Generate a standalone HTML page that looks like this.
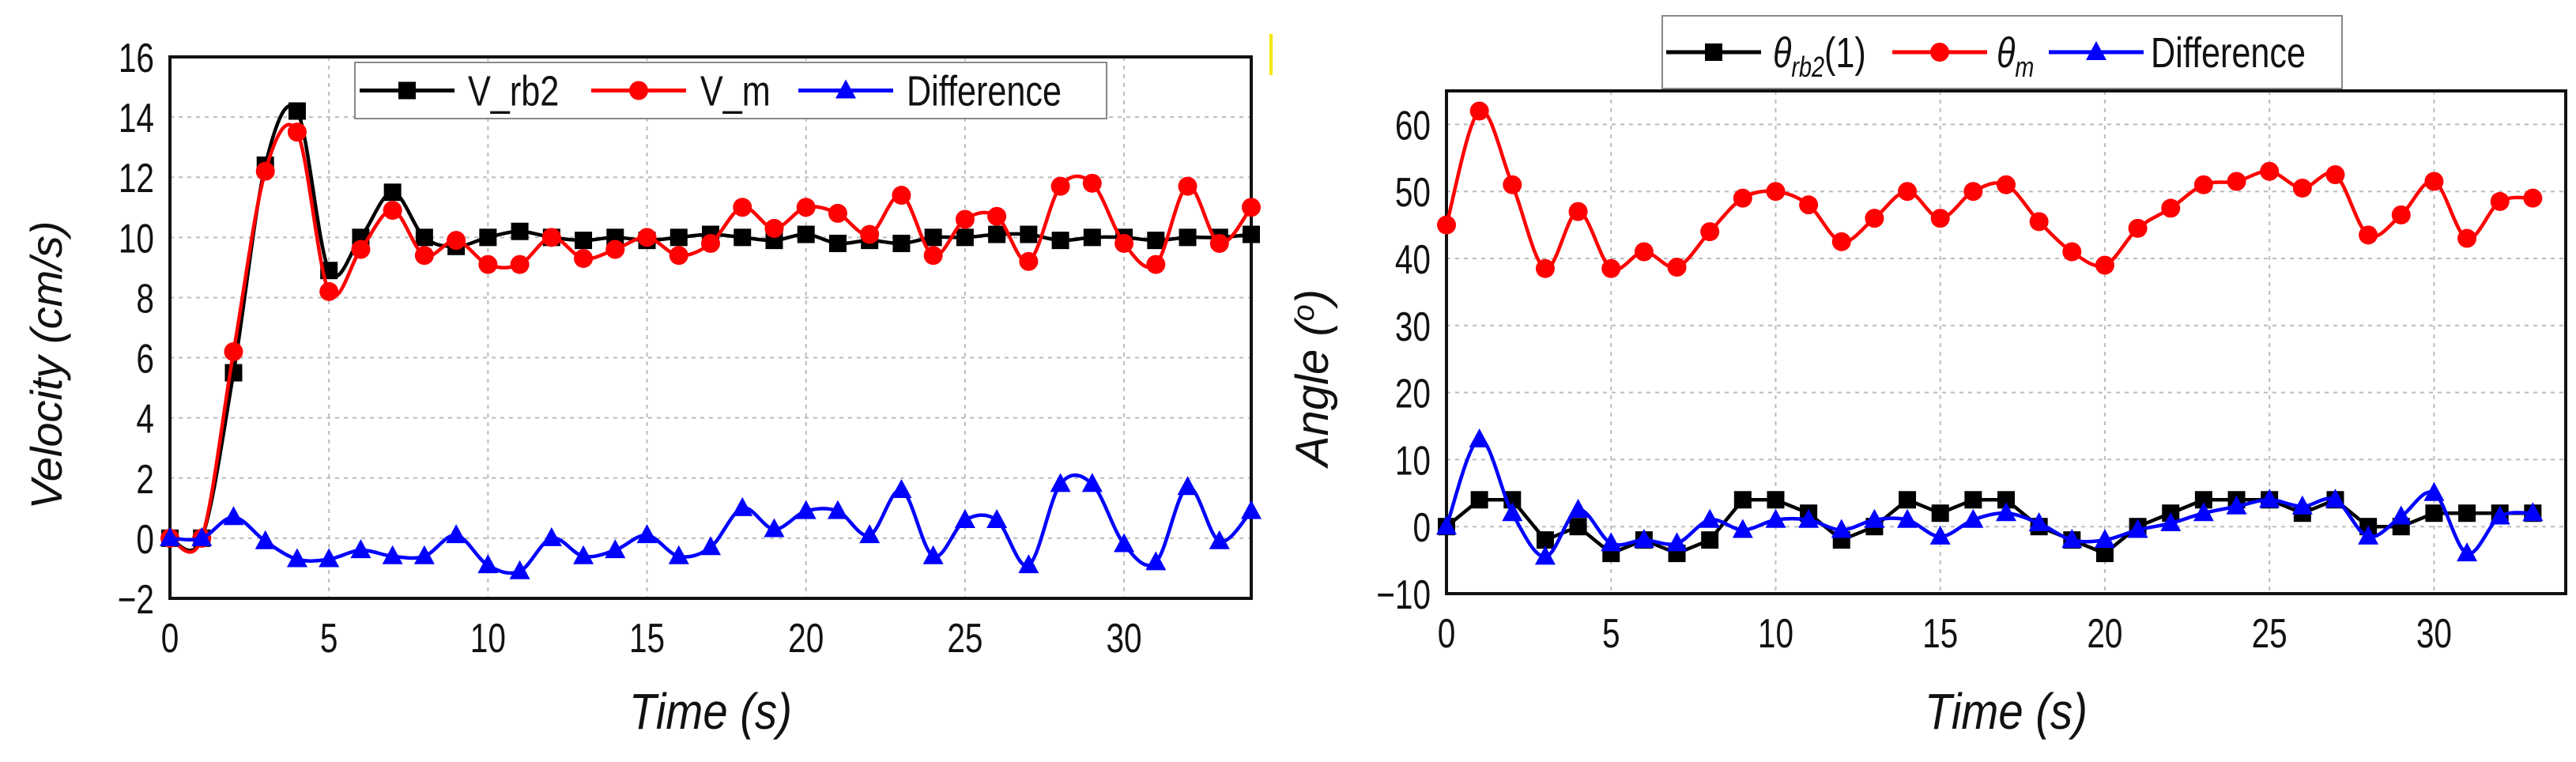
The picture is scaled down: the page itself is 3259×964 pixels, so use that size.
<!DOCTYPE html>
<html><head><meta charset="utf-8"><style>
html,body{margin:0;padding:0;background:#fff;width:3259px;height:964px;overflow:hidden}
svg{display:block}
text{font-family:"Liberation Sans",sans-serif}
</style></head><body>
<svg id="s" width="3259" height="964" xmlns="http://www.w3.org/2000/svg">
<rect x="1606" y="43" width="4" height="52" fill="#f5e600"/>
</svg>
<script>
// ---- Left chart data (velocity) ----
const velTime=[0,1,2,3,4,5,6,7,8,9,10,11,12,13,14,15,16,17,18,19,20,21,22,23,24,25,26,27,28,29,30,31,32,33,34];
const velRb2=[0,0,5.5,12.4,14.2,8.9,10,11.5,10,9.7,10,10.2,10,9.9,10,9.9,10,10.1,10,9.9,10.1,9.8,9.9,9.8,10,10,10.1,10.1,9.9,10,10,9.9,10,10,10.1];
const velM=[0,0,6.2,12.2,13.5,8.2,9.6,10.9,9.4,9.9,9.1,9.1,10,9.3,9.6,10,9.4,9.8,11,10.3,11,10.8,10.1,11.4,9.4,10.6,10.7,9.2,11.7,11.8,9.8,9.1,11.7,9.8,11];
const velDiff=[0,0,0.7,-0.1,-0.7,-0.7,-0.4,-0.6,-0.6,0.1,-0.9,-1.1,0,-0.6,-0.4,0.1,-0.6,-0.3,1,0.3,0.9,0.9,0.1,1.6,-0.6,0.6,0.6,-0.9,1.8,1.8,-0.2,-0.8,1.7,-0.1,0.9];
const velYTicks=[-2,0,2,4,6,8,10,12,14,16];
const velXTicks=[0,5,10,15,20,25,30];
// ---- Right chart data (angle) ----
const angTime=[0,1,2,3,4,5,6,7,8,9,10,11,12,13,14,15,16,17,18,19,20,21,22,23,24,25,26,27,28,29,30,31,32,33];
const angM=[45,62,51,38.5,47,38.5,41,38.7,44,49,50,48,42.5,46,50,46,50,51,45.5,41,39,44.5,47.5,51,51.5,53,50.5,52.5,43.5,46.5,51.5,43,48.5,49];
const angRb2=[0,4,4,-2,0,-4,-2,-4,-2,4,4,2,-2,0,4,2,4,4,0,-2,-4,0,2,4,4,4,2,4,0,0,2,2,2,2];
const angDiff=[0,13,2,-4.5,2.5,-2.5,-2,-2.5,1,-0.5,1,1,-0.5,1,1,-1.5,1,2,0.5,-2,-2,-0.5,0.5,2,3,4,3,4,-1.5,1.5,5,-4,1.5,2];
const angYTicks=[-10,0,10,20,30,40,50,60];
const angXTicks=[0,5,10,15,20,25,30];

const NS="http://www.w3.org/2000/svg";
const svg=document.getElementById('s');
function mk(tag,attrs,parent){const e=document.createElementNS(NS,tag);for(const k in attrs)e.setAttribute(k,attrs[k]);(parent||svg).appendChild(e);return e;}
function smooth(pts){let d="M"+pts[0][0]+","+pts[0][1];for(let i=0;i<pts.length-1;i++){const p0=pts[i-1]||pts[i],p1=pts[i],p2=pts[i+1],p3=pts[i+2]||p2;const t=0.5/3;d+=" C"+(p1[0]+(p2[0]-p0[0])*t)+","+(p1[1]+(p2[1]-p0[1])*t)+" "+(p2[0]-(p3[0]-p1[0])*t)+","+(p2[1]-(p3[1]-p1[1])*t)+" "+p2[0]+","+p2[1];}return d;}
function marker(g,type,x,y,c){let e;
 if(type==='sq'){e=mk('rect',{x:x-11,y:y-11,width:22,height:22,fill:c},g);}
 else if(type==='ci'){e=mk('circle',{cx:x,cy:y,r:12,fill:c},g);}
 else {e=mk('polygon',{points:(x)+","+(y-14)+" "+(x+13)+","+(y+10)+" "+(x-13)+","+(y+10),fill:c},g);}
 
 
}
function narrow(t,x,s){t.setAttribute('transform','translate('+x+',0) scale('+s+',1) translate('+(-x)+',0)');}
function chart(o){
 const sx=v=>o.x0+(v-o.xmin)/(o.xmax-o.xmin)*(o.x1-o.x0);
 const sy=v=>o.y1-(v-o.ymin)/(o.ymax-o.ymin)*(o.y1-o.y0);
 const g=mk('g',{});
 
 
 o.yTicks.forEach(t=>{if(t>o.ymin&&t<o.ymax){const l=mk('line',{x1:o.x0,x2:o.x1,y1:sy(t),y2:sy(t),stroke:'#bbb','stroke-width':2,'stroke-dasharray':'5,6'},g);}
  const tx=mk('text',{x:o.x0-20,y:sy(t)+19,'text-anchor':'end','font-size':52,fill:'#111'},g);tx.textContent=(t<0?'\u2212'+(-t):t);narrow(tx,o.x0-20,0.78);
  });
 o.xTicks.forEach(t=>{if(t>o.xmin&&t<o.xmax){const l=mk('line',{x1:sx(t),x2:sx(t),y1:o.y0,y2:o.y1,stroke:'#bbb','stroke-width':2,'stroke-dasharray':'5,6'},g);}
  const tx=mk('text',{x:sx(t),y:o.y1+68,'text-anchor':'middle','font-size':52,fill:'#111'},g);tx.textContent=t;narrow(tx,sx(t),0.78);
  });
 const fr=mk('rect',{x:o.x0,y:o.y0,width:o.x1-o.x0,height:o.y1-o.y0,fill:'none',stroke:'#111','stroke-width':4},g);
 
 o.series.forEach(s=>{
  const pts=o.xs.map((x,i)=>[sx(x),sy(s.v[i])]);
  const p=mk('path',{d:s.linear?("M"+pts.map(p=>p.join(',')).join(' L')):smooth(pts),fill:'none',stroke:s.c,'stroke-width':4.5},g);
  
  pts.forEach(q=>marker(g,s.m,q[0],q[1],s.c));
 });
 const xt=mk('text',{x:(o.x0+o.x1)/2,y:922,'text-anchor':'middle','font-size':64,'font-style':'italic',fill:'#111'},g);xt.textContent='Time (s)';narrow(xt,(o.x0+o.x1)/2,0.88);
 
 const yt=mk('text',{x:0,y:0,'text-anchor':'middle','font-size':o.ytf,'font-style':'italic',fill:'#111',transform:'translate('+o.ytx+','+o.yty+') rotate(-90)'},g);
 
 return {g,yt};
}
const L=chart({name:'velocity-chart',x0:215,x1:1583,y0:72,y1:757,xmin:0,xmax:34,ymin:-2,ymax:16,xs:velTime,yTicks:velYTicks,xTicks:velXTicks,ytx:78,yty:462,ytf:56,
 series:[{name:'v-rb2-line',v:velRb2,c:'#000',m:'sq'},{name:'v-m-line',v:velM,c:'#f00',m:'ci'},{name:'difference-line',v:velDiff,c:'#00f',m:'tr'}]});
L.yt.textContent='Velocity (cm/s)';
const R=chart({name:'angle-chart',x0:1830,x1:3246,y0:115,y1:751,xmin:0,xmax:34,ymin:-10,ymax:65,xs:angTime,yTicks:angYTicks,xTicks:angXTicks,ytx:1680,yty:478,ytf:58,
 series:[{name:'theta-rb2-line',v:angRb2,c:'#000',m:'sq',linear:true},{name:'theta-m-line',v:angM,c:'#f00',m:'ci'},{name:'difference-line',v:angDiff,c:'#00f',m:'tr'}]});
R.yt.innerHTML='Angle (<tspan font-size="38" dy="-18">o</tspan><tspan dy="18">)</tspan>';
function legend(x,y,w,h,items,name){
 const g=mk('g',{});
 
 
 mk('rect',{x:x,y:y,width:w,height:h,fill:'#fff',stroke:'#888','stroke-width':2},g);
 items.forEach(it=>{
  const cy=y+h/2;
  const ln=mk('line',{x1:it.x,x2:it.x+120,y1:cy,y2:cy,stroke:it.c,'stroke-width':5},g);
  
  marker(g,it.m,it.x+60,cy,it.c);
  const t=mk('text',{x:it.tx,y:cy+19,'font-size':54,fill:'#111'},g);
  t.innerHTML=it.t;narrow(t,it.tx,0.8);
  
 });
}
legend(449,79,951,71,[{x:455,tx:592,c:'#000',m:'sq',t:'V_rb2'},{x:748,tx:886,c:'#f00',m:'ci',t:'V_m'},{x:1010,tx:1147,c:'#00f',m:'tr',t:'Difference'}],'velocity-legend');
legend(2103,20,860,92,[{x:2108,tx:2243,c:'#000',m:'sq',t:'<tspan font-style="italic">θ</tspan><tspan font-style="italic" font-size="36" dy="12">rb2</tspan><tspan dy="-12">(1)</tspan>'},{x:2394,tx:2526,c:'#f00',m:'ci',t:'<tspan font-style="italic">θ</tspan><tspan font-style="italic" font-size="36" dy="12">m</tspan>'},{x:2592,tx:2721,c:'#00f',m:'tr',t:'Difference'}],'angle-legend');
</script>
</body></html>
